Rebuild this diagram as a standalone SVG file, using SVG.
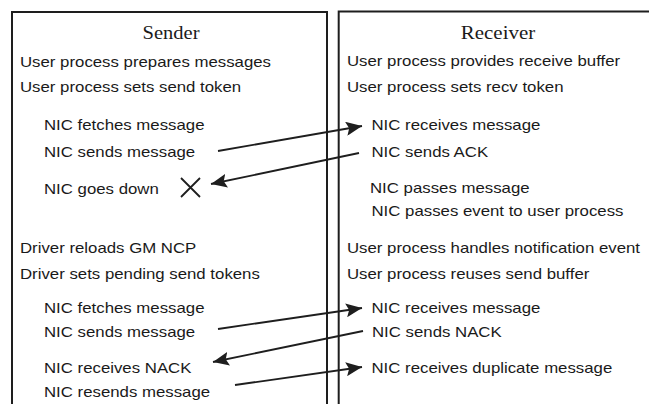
<svg xmlns="http://www.w3.org/2000/svg" width="649" height="404" viewBox="0 0 649 404">
  <style>
    .lane { fill: none; stroke: #1e1e1e; stroke-width: 2; }
    .t { font-family: "Liberation Sans", Arial, sans-serif; font-size: 14px; fill: #1a1a1a; }
    .hd { font-family: "Liberation Serif", "Times New Roman", serif; font-size: 19px; fill: #1a1a1a; text-anchor: middle; }
    .msg { fill: none; stroke: #1e1e1e; stroke-width: 1.8; marker-end: url(#head); }
    .cross { stroke: #1e1e1e; stroke-width: 1.8; fill: none; }
  </style>
  <defs>
    <marker id="head" markerUnits="userSpaceOnUse" markerWidth="17" markerHeight="14" refX="16" refY="7" orient="auto">
      <path d="M0,0 L16,7 L0,14 L3,7 z" fill="#1e1e1e"/>
    </marker>
  </defs>
  <rect width="649" height="404" fill="#ffffff"/>

  <g id="sender">
    <path class="lane" d="M12,412 V12 H327 V412"/>
    <text class="hd" transform="translate(171,39) scale(1.08,1)">Sender</text>
    <text class="t" transform="translate(20,67) scale(1.2,1)">User process prepares messages</text>
    <text class="t" transform="translate(20,92) scale(1.2,1)">User process sets send token</text>
    <text class="t" transform="translate(44,130) scale(1.2,1)">NIC fetches message</text>
    <text class="t" transform="translate(44,157) scale(1.2,1)">NIC sends message</text>
    <text class="t" transform="translate(44,194) scale(1.2,1)">NIC goes down</text>
    <path class="cross" d="M181,178 L200,197 M200,178 L181,197"/>
    <text class="t" transform="translate(20,253) scale(1.2,1)">Driver reloads GM NCP</text>
    <text class="t" transform="translate(20,279) scale(1.2,1)">Driver sets pending send tokens</text>
    <text class="t" transform="translate(44,313) scale(1.2,1)">NIC fetches message</text>
    <text class="t" transform="translate(44,337) scale(1.2,1)">NIC sends message</text>
    <text class="t" transform="translate(44,373) scale(1.2,1)">NIC receives NACK</text>
    <text class="t" transform="translate(44,397) scale(1.2,1)">NIC resends message</text>
  </g>

  <g id="receiver">
    <path class="lane" d="M338.7,412 V11.5 H655"/>
    <text class="hd" transform="translate(498,39) scale(1.1,1)">Receiver</text>
    <text class="t" transform="translate(347,66) scale(1.2,1)">User process provides receive buffer</text>
    <text class="t" transform="translate(347,92) scale(1.2,1)">User process sets recv token</text>
    <text class="t" transform="translate(371.5,130) scale(1.2,1)">NIC receives message</text>
    <text class="t" transform="translate(371.5,157) scale(1.2,1)">NIC sends ACK</text>
    <text class="t" transform="translate(370,193) scale(1.2,1)">NIC passes message</text>
    <text class="t" transform="translate(371.5,216) scale(1.2,1)">NIC passes event to user process</text>
    <text class="t" transform="translate(347,253) scale(1.2,1)">User process handles notification event</text>
    <text class="t" transform="translate(347,279) scale(1.2,1)">User process reuses send buffer</text>
    <text class="t" transform="translate(371.5,313) scale(1.2,1)">NIC receives message</text>
    <text class="t" transform="translate(372,337) scale(1.2,1)">NIC sends NACK</text>
    <text class="t" transform="translate(371.5,373) scale(1.2,1)">NIC receives duplicate message</text>
  </g>

  <g id="connectors">
    <line class="msg" x1="218" y1="151" x2="362" y2="126"/>
    <line class="msg" x1="359" y1="153" x2="211" y2="184"/>
    <line class="msg" x1="218" y1="329" x2="362" y2="308"/>
    <line class="msg" x1="363" y1="331" x2="213" y2="362"/>
    <line class="msg" x1="235" y1="385" x2="362" y2="367"/>
  </g>
</svg>
